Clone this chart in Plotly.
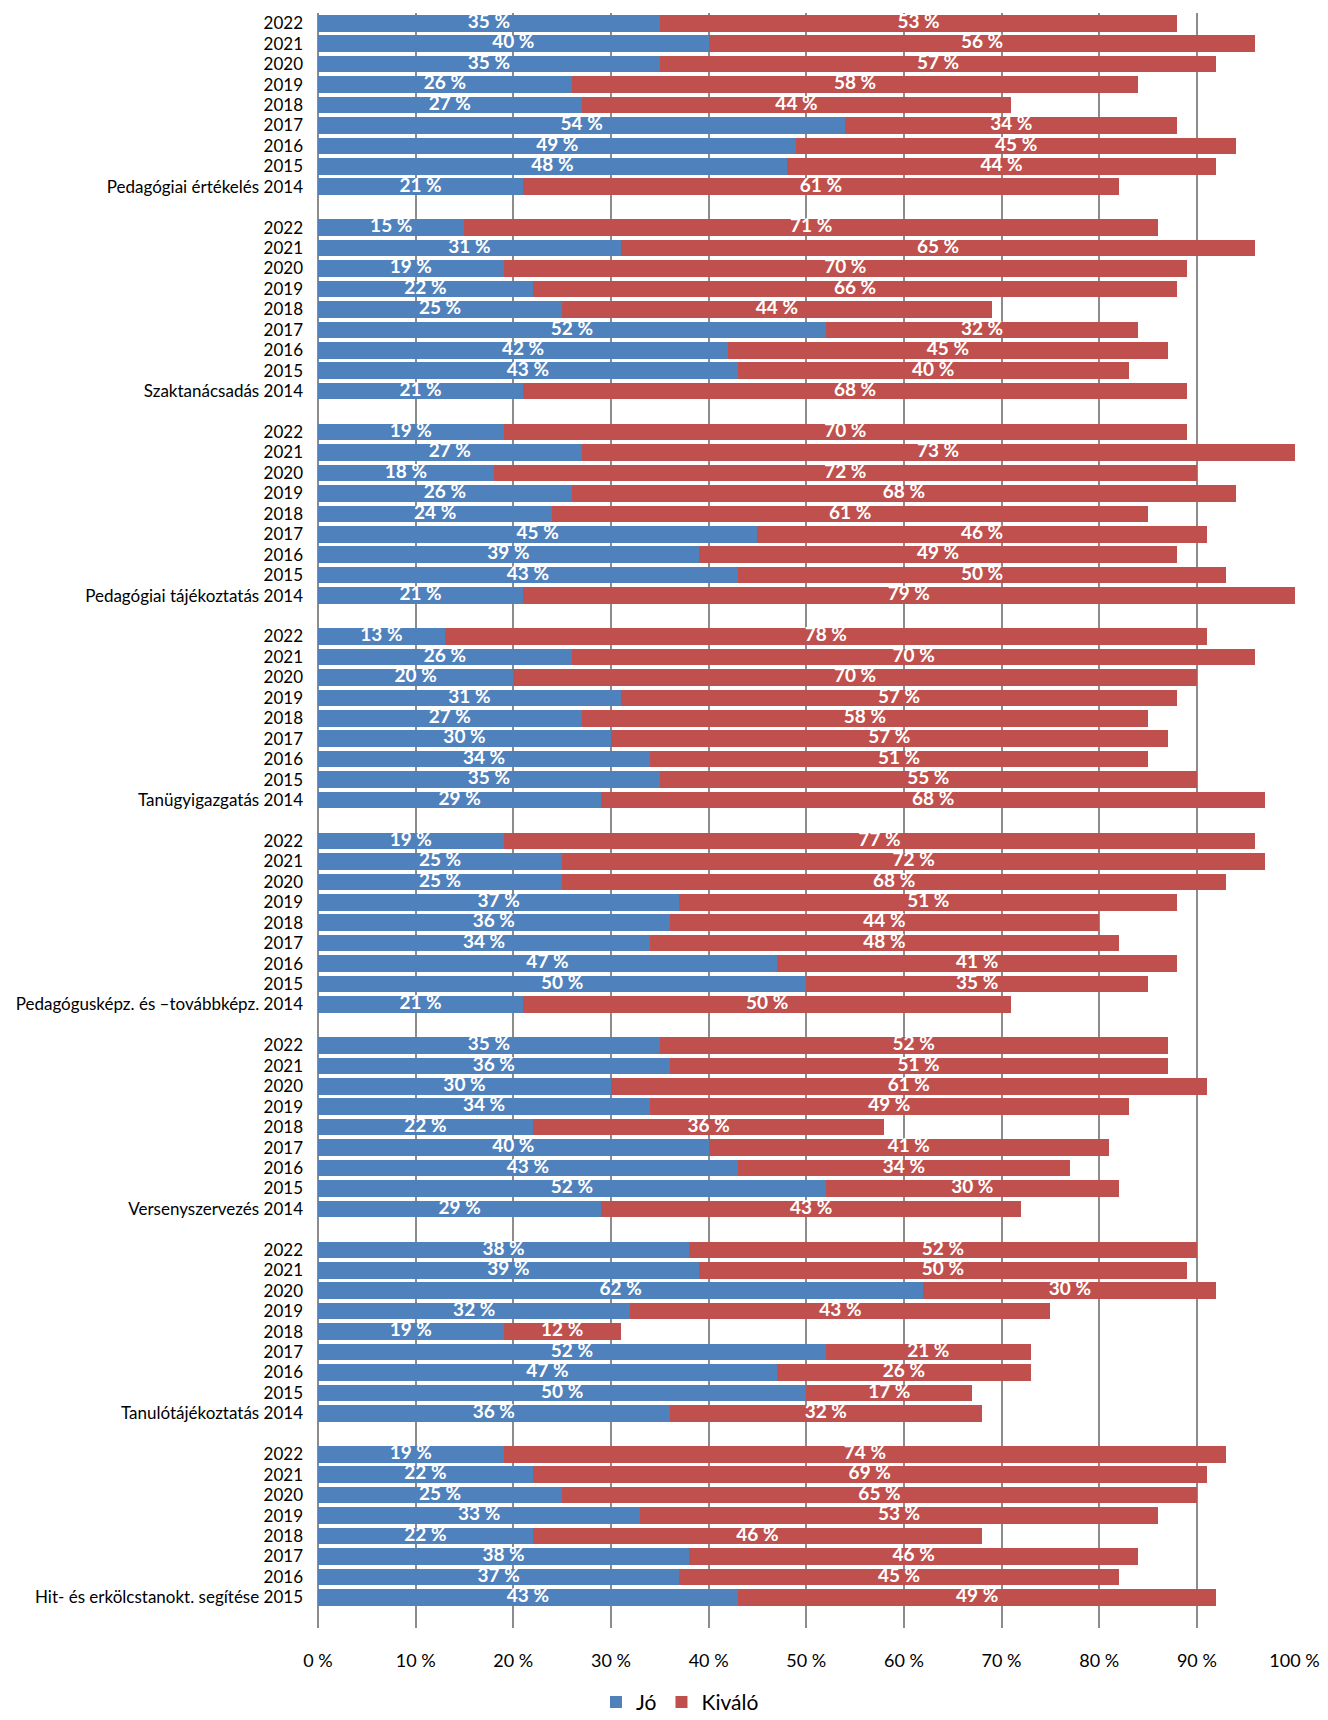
import plotly.graph_objects as go

# ---- data ----
categories = [
    "Pedagógiai értékelés",
    "Szaktanácsadás",
    "Pedagógiai tájékoztatás",
    "Tanügyigazgatás",
    "Pedagógusképz. és –továbbképz.",
    "Versenyszervezés",
    "Tanulótájékoztatás",
    "Hit- és erkölcstanokt. segítése",
]

years_full = [2022, 2021, 2020, 2019, 2018, 2017, 2016, 2015, 2014]
years_hit = [2022, 2021, 2020, 2019, 2018, 2017, 2016, 2015]

jo_ped_ertekeles = [35, 40, 35, 26, 27, 54, 49, 48, 21]
kiv_ped_ertekeles = [53, 56, 57, 58, 44, 34, 45, 44, 61]

jo_szaktanacsadas = [15, 31, 19, 22, 25, 52, 42, 43, 21]
kiv_szaktanacsadas = [71, 65, 70, 66, 44, 32, 45, 40, 68]

jo_ped_tajekoztatas = [19, 27, 18, 26, 24, 45, 39, 43, 21]
kiv_ped_tajekoztatas = [70, 73, 72, 68, 61, 46, 49, 50, 79]

jo_tanugyigazgatas = [13, 26, 20, 31, 27, 30, 34, 35, 29]
kiv_tanugyigazgatas = [78, 70, 70, 57, 58, 57, 51, 55, 68]

jo_pedagoguskepzes = [19, 25, 25, 37, 36, 34, 47, 50, 21]
kiv_pedagoguskepzes = [77, 72, 68, 51, 44, 48, 41, 35, 50]

jo_versenyszervezes = [35, 36, 30, 34, 22, 40, 43, 52, 29]
kiv_versenyszervezes = [52, 51, 61, 49, 36, 41, 34, 30, 43]

jo_tanulotajekoztatas = [38, 39, 62, 32, 19, 52, 47, 50, 36]
kiv_tanulotajekoztatas = [52, 50, 30, 43, 12, 21, 26, 17, 32]

jo_hit_erkolcs = [19, 22, 25, 33, 22, 38, 37, 43]
kiv_hit_erkolcs = [74, 69, 65, 53, 46, 46, 45, 49]

x_ticks = [0, 10, 20, 30, 40, 50, 60, 70, 80, 90, 100]
x_tick_labels = [f"{v} %" for v in x_ticks]

group_years = [years_full] * 7 + [years_hit]
group_jo = [jo_ped_ertekeles, jo_szaktanacsadas, jo_ped_tajekoztatas, jo_tanugyigazgatas,
            jo_pedagoguskepzes, jo_versenyszervezes, jo_tanulotajekoztatas, jo_hit_erkolcs]
group_kiv = [kiv_ped_ertekeles, kiv_szaktanacsadas, kiv_ped_tajekoztatas, kiv_tanugyigazgatas,
             kiv_pedagoguskepzes, kiv_versenyszervezes, kiv_tanulotajekoztatas, kiv_hit_erkolcs]

# ---- build rows (one empty row between groups) ----
rows, jo_vals, kiv_vals, tick_text = [], [], [], []
pos = 0
for g, name in enumerate(categories):
    yrs = group_years[g]
    for i, yr in enumerate(yrs):
        rows.append(pos)
        jo_vals.append(group_jo[g][i])
        kiv_vals.append(group_kiv[g][i])
        tick_text.append(f"{name} {yr}" if i == len(yrs) - 1 else str(yr))
        pos += 1
    pos += 1
n_rows = pos - 1

BLUE = "#4F81BD"
RED = "#C0504D"
FONT = "Lato"

label_font = dict(family=FONT, size=19, color="white", weight="bold")

fig = go.Figure()
fig.add_trace(go.Bar(
    y=rows, x=jo_vals, orientation="h", name="Jó",
    marker=dict(color=BLUE, line=dict(width=0)),
    width=0.81, textposition="none", hoverinfo="x+name",
))
fig.add_trace(go.Bar(
    y=rows, x=kiv_vals, orientation="h", name="Kiváló",
    marker=dict(color=RED, line=dict(width=0)),
    width=0.81, textposition="none", hoverinfo="x+name",
))

# value labels centred on each segment
fig.add_trace(go.Scatter(
    y=rows, x=[v / 2 for v in jo_vals], mode="text",
    text=[f"{v} %" for v in jo_vals], textposition="middle center",
    textfont=label_font, showlegend=False, hoverinfo="skip", cliponaxis=False,
))
fig.add_trace(go.Scatter(
    y=rows, x=[j + k / 2 for j, k in zip(jo_vals, kiv_vals)], mode="text",
    text=[f"{v} %" for v in kiv_vals], textposition="middle center",
    textfont=label_font, showlegend=False, hoverinfo="skip", cliponaxis=False,
))

fig.update_layout(
    barmode="stack",
    width=1328, height=1720,
    margin=dict(l=310, r=41, t=5, b=93),
    paper_bgcolor="white", plot_bgcolor="white",
    font=dict(family=FONT, size=17, color="black"),
    legend=dict(
        orientation="h", xref="paper", yref="paper",
        x=0.3705, xanchor="center", y=-0.046, yanchor="middle",
        font=dict(family=FONT, size=21, color="black"),
        itemwidth=30, traceorder="normal",
    ),
    xaxis=dict(
        range=[0, 100.05], tickvals=x_ticks, ticktext=x_tick_labels,
        showgrid=True, gridcolor="#8C8C8C", gridwidth=1.5,
        zeroline=True, zerolinecolor="#8C8C8C", zerolinewidth=1.5,
        showline=False, ticks="", ticklabelstandoff=20,
        tickfont=dict(family=FONT, size=18, color="black"),
        fixedrange=True,
    ),
    yaxis=dict(
        range=[n_rows + 0.5, -0.5],
        tickvals=rows, ticktext=tick_text,
        showgrid=False, zeroline=False, showline=False,
        ticks="", ticklabelstandoff=14,
        tickfont=dict(family=FONT, size=17, color="black"),
        fixedrange=True,
    ),
)

fig.write_html("out.html")
